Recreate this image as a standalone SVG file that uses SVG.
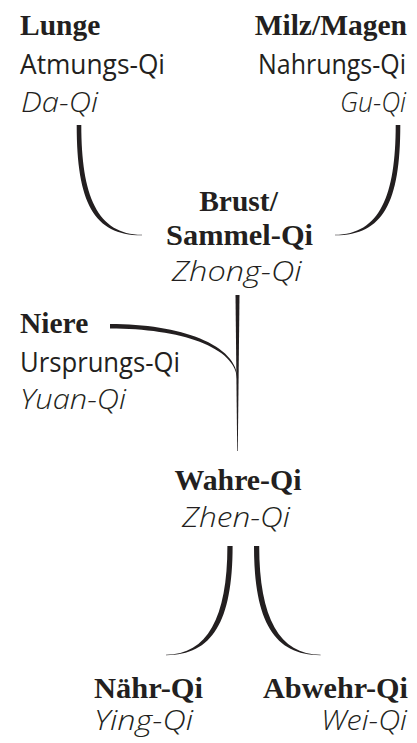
<svg xmlns="http://www.w3.org/2000/svg" width="417" height="743" viewBox="0 0 417 743">
  <style>
    text { fill: #231f20; }
    .head { font-family: "Liberation Serif", "DejaVu Serif", serif; font-weight: bold; font-size: 29.5px; }
    .name { font-family: "Open Sans", "Noto Sans", sans-serif; font-size: 28px; }
    .pin { font-family: "Open Sans", "Noto Sans", sans-serif; font-style: italic; font-weight: 300; font-size: 28px; }
    .flow { fill: #231f20; stroke: none; }
    .end { text-anchor: end; }
    .mid { text-anchor: middle; }
  </style>
  <rect width="417" height="743" fill="#ffffff"/>

  <!-- tapered connectors, drawn as filled shapes -->
  <g id="connectors">
    <path class="flow" d="M76.7,125 L81.3,125 C81.3,195 97,234.6 142,234.8 L142,235.3 C94,235.6 76.7,203 76.7,125 Z"/>
    <path class="flow" d="M400.3,125 L395.7,125 C395.7,195 380,234.6 335,234.8 L335,235.3 C383,235.6 400.3,203 400.3,125 Z"/>
    <path class="flow" d="M235.5,295 L239.5,295 L237.8,451 L237.2,451 Z"/>
    <path class="flow" d="M110,323.9 C180,323.9 238,344 237.8,380 L237.2,380 C236.8,347 180,328.6 110,328.6 Z"/>
    <path class="flow" d="M227.4,546 L232.6,546 C232.6,622 212,655.3 166,655.2 L166,654.8 C207,654.6 227.4,618 227.4,546 Z"/>
    <path class="flow" d="M259.2,546 L254,546 C254,622 274.6,655.3 320.6,655.2 L320.6,654.8 C279.6,654.6 259.2,618 259.2,546 Z"/>
  </g>

  <g id="lunge">
    <text class="head" x="20" y="35">Lunge</text>
    <text class="name" x="20" y="74" textLength="145" lengthAdjust="spacingAndGlyphs">Atmungs-Qi</text>
    <text class="pin" x="21" y="112" textLength="77" lengthAdjust="spacingAndGlyphs">Da-Qi</text>
  </g>

  <g id="milz-magen">
    <text class="head end" x="407" y="35">Milz/Magen</text>
    <text class="name end" x="406" y="74" textLength="148" lengthAdjust="spacingAndGlyphs">Nahrungs-Qi</text>
    <text class="pin end" x="406" y="112" textLength="66" lengthAdjust="spacingAndGlyphs">Gu-Qi</text>
  </g>

  <g id="brust">
    <text class="head mid" x="238.5" y="211">Brust/</text>
    <text class="head mid" x="239.5" y="245" textLength="147" lengthAdjust="spacingAndGlyphs">Sammel-Qi</text>
    <text class="pin mid" x="236.7" y="281" textLength="130" lengthAdjust="spacingAndGlyphs">Zhong-Qi</text>
  </g>

  <g id="niere">
    <text class="head" x="20" y="333">Niere</text>
    <text class="name" x="20" y="372" textLength="160" lengthAdjust="spacingAndGlyphs">Ursprungs-Qi</text>
    <text class="pin" x="20" y="409" textLength="106" lengthAdjust="spacingAndGlyphs">Yuan-Qi</text>
  </g>

  <g id="wahre">
    <text class="head mid" x="238" y="490" textLength="127" lengthAdjust="spacingAndGlyphs">Wahre-Qi</text>
    <text class="pin mid" x="236" y="527" textLength="108" lengthAdjust="spacingAndGlyphs">Zhen-Qi</text>
  </g>

  <g id="naehr">
    <text class="head" x="94" y="698" textLength="109" lengthAdjust="spacingAndGlyphs">Nähr-Qi</text>
    <text class="pin" x="94" y="730" textLength="99" lengthAdjust="spacingAndGlyphs">Ying-Qi</text>
  </g>

  <g id="abwehr">
    <text class="head end" x="408" y="698" textLength="145" lengthAdjust="spacingAndGlyphs">Abwehr-Qi</text>
    <text class="pin end" x="407" y="730" textLength="86" lengthAdjust="spacingAndGlyphs">Wei-Qi</text>
  </g>
</svg>
